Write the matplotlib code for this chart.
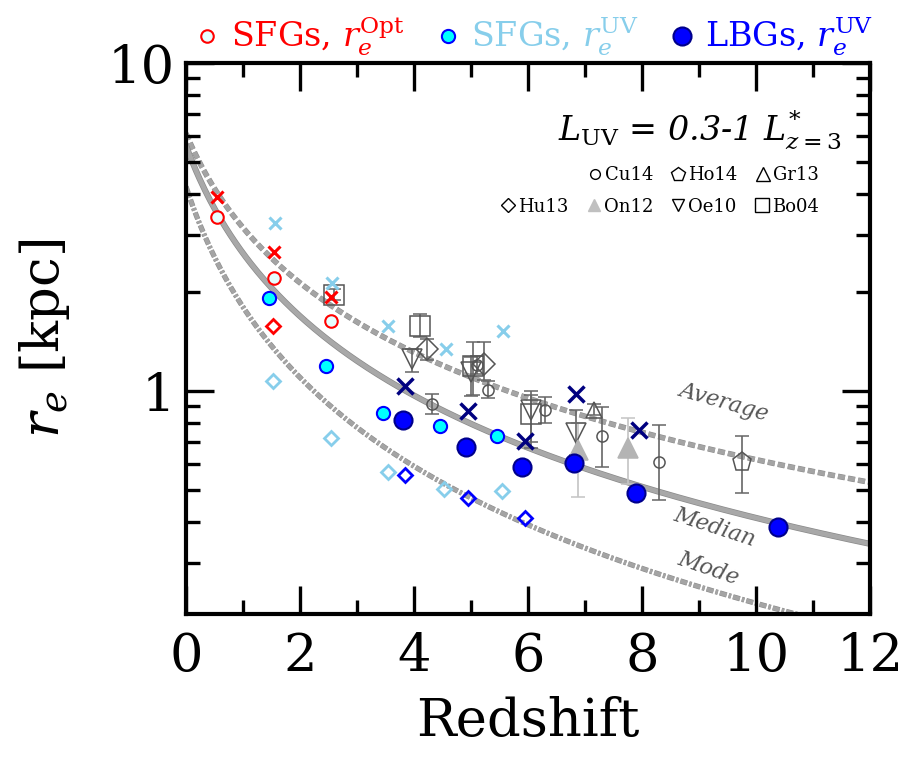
import numpy as np
import matplotlib
matplotlib.use("Agg")
import matplotlib.pyplot as plt
from matplotlib.lines import Line2D
from matplotlib.ticker import MultipleLocator, FixedLocator, NullFormatter, LogLocator
import matplotlib.patheffects as pe

plt.rcParams["font.family"] = ["DejaVu Serif"]
plt.rcParams["mathtext.fontset"] = "dejavuserif"

# ---- this work: SFGs (optical sizes) ----
sfg_opt_z = [0.55, 1.55, 2.55]
sfg_opt_med = [3.39, 2.21, 1.64]
sfg_opt_avg = [3.89, 2.65, 1.94]
sfg_opt_mode_z = [1.53]
sfg_opt_mode = [1.58]

# ---- this work: SFGs (UV sizes) ----
sfg_uv_z = [1.46, 2.46, 3.45, 4.46, 5.45]
sfg_uv_med = [1.92, 1.19, 0.858, 0.784, 0.727]
sfg_uv_avg_z = [1.56, 2.56, 3.55, 4.56, 5.56]
sfg_uv_avg = [3.26, 2.14, 1.58, 1.34, 1.52]
sfg_uv_mode_z = [1.53, 2.54, 3.54, 4.53, 5.54]
sfg_uv_mode = [1.07, 0.717, 0.565, 0.504, 0.496]

# ---- this work: LBGs (UV sizes) ----
lbg_z = [3.81, 4.91, 5.90, 6.80, 7.90, 10.39]
lbg_med = [0.813, 0.673, 0.588, 0.604, 0.489, 0.384]
lbg_avg_z = [3.85, 4.95, 5.95, 6.85, 7.94]
lbg_avg = [1.036, 0.868, 0.702, 0.977, 0.762]
lbg_mode_z = [3.85, 4.94, 5.94]
lbg_mode = [0.554, 0.473, 0.410]

# ---- literature compilation: (z, r, lower, upper) ----
cu14_z = [4.31, 5.10, 5.30, 6.30, 7.30, 8.30]
cu14_r = [0.910, 1.20, 1.01, 0.878, 0.727, 0.606]
cu14_lo = [0.851, 1.13, 0.95, 0.800, 0.588, 0.466]
cu14_hi = [0.977, 1.28, 1.07, 0.960, 0.895, 0.790]

ho14_z = [9.75]
ho14_r = [0.609]
ho14_lo = [0.487]
ho14_hi = [0.727]

gr13_z = [7.15]
gr13_r = [0.878]
gr13_lo = [0.845]
gr13_hi = [0.910]

hu13_z = [4.22, 5.22]
hu13_r = [1.34, 1.21]
hu13_lo = [1.24, 1.08]
hu13_hi = [1.44, 1.41]

on12_z = [6.88, 7.76]
on12_r = [0.662, 0.670]
on12_lo = [0.475, 0.522]
on12_hi = [0.800, 0.828]

oe10_z = [3.96, 5.00, 6.05, 6.85]
oe10_r = [1.25, 1.14, 0.878, 0.744]
oe10_lo = [1.14, 0.965, 0.700, 0.640]
oe10_hi = [1.34, 1.27, 0.970, 0.878]

bo04_z = [2.59, 4.10, 5.04, 6.06]
bo04_r = [1.96, 1.58, 1.19, 0.850]
bo04_lo = [1.90, 1.46, 0.97, 0.670]
bo04_hi = [2.05, 1.72, 1.41, 1.000]

# ---- power-law size evolution fits r = r0 (1+z)^-beta ----
fit_avg = (6.1, 0.955)
fit_med = (5.6, 1.09)
fit_mode = (4.2, 1.22)

fig = plt.figure(figsize=(9.15, 7.69), dpi=100)
ax = fig.add_axes([186 / 915, 155 / 769, 684 / 915, 551 / 769])
ax.set_yscale("log")
ax.set_xlim(0, 12)
ax.set_ylim(0.209, 10)

zg = np.linspace(0, 12, 400)


def powlaw(p):
    return p[0] * (1 + zg) ** (-p[1])


ax.plot(zg, powlaw(fit_avg), color="#a4a4a4", lw=3.2, dashes=(1.6, 0.7),
        zorder=1, path_effects=[pe.Stroke(linewidth=4.0, foreground="#8c8c8c"), pe.Normal()])
ax.plot(zg, powlaw(fit_med), color="#a8a8a8", lw=3.4, zorder=1,
        path_effects=[pe.Stroke(linewidth=4.4, foreground="#8a8a8a"), pe.Normal()])
ax.plot(zg, powlaw(fit_mode), color="#a4a4a4", lw=3.0, dashes=(1.7, 0.5, 0.6, 0.5),
        zorder=1, path_effects=[pe.Stroke(linewidth=3.8, foreground="#8c8c8c"), pe.Normal()])

lab_kw = dict(fontsize=16, style="italic", color="#555555", ha="center", va="center")
ax.text(9.44, 0.925, "Average", rotation=-16, **lab_kw)
ax.text(9.28, 0.385, "Median", rotation=-18, **lab_kw)
ax.text(9.16, 0.288, "Mode", rotation=-19, **lab_kw)

# literature points
gcol = "#555555"
ecol = "#666666"


def lit(z, r, lo, hi, marker, ms, mfc="none", mec=gcol, ec=ecol):
    r = np.asarray(r)
    yerr = [r - np.asarray(lo), np.asarray(hi) - r]
    ax.errorbar(z, r, yerr=yerr, fmt=marker, ms=ms, mfc=mfc, mec=mec, mew=1.1,
                ecolor=ec, elinewidth=1.2, capsize=5, capthick=1.2, zorder=2)


lit(bo04_z, bo04_r, bo04_lo, bo04_hi, "s", 14)
lit(hu13_z, hu13_r, hu13_lo, hu13_hi, "D", 11)
lit(oe10_z, oe10_r, oe10_lo, oe10_hi, "v", 14)
lit(on12_z, on12_r, on12_lo, on12_hi, "^", 14, mfc="#b4b4b4", mec="#b4b4b4", ec="#c4c4c4")
lit(gr13_z, gr13_r, gr13_lo, gr13_hi, "^", 12)
lit(cu14_z, cu14_r, cu14_lo, cu14_hi, "o", 8)
lit(ho14_z, ho14_r, ho14_lo, ho14_hi, "p", 14)

# this work
red = "#ff0000"
sky = "#87ceeb"
navy = "#000080"
ax.plot(sfg_opt_z, sfg_opt_avg, "x", color=red, ms=9, mew=2.2, ls="none", zorder=4)
ax.plot(sfg_opt_z, sfg_opt_med, "o", mfc="#e6ffff", mec=red, ms=9, mew=1.5, ls="none", zorder=4)
ax.plot(sfg_opt_mode_z, sfg_opt_mode, "D", mfc="none", mec=red, ms=7.5, mew=2, ls="none", zorder=4)

ax.plot(sfg_uv_avg_z, sfg_uv_avg, "x", color=sky, ms=9, mew=2.2, ls="none", zorder=4)
ax.plot(sfg_uv_z, sfg_uv_med, "o", mfc="#00ffff", mec="#0000ff", ms=9.5, mew=1.5, ls="none", zorder=4)
ax.plot(sfg_uv_mode_z, sfg_uv_mode, "D", mfc="none", mec=sky, ms=7.5, mew=2, ls="none", zorder=4)

ax.plot(lbg_avg_z, lbg_avg, "x", color=navy, ms=12, mew=2.5, ls="none", zorder=4)
ax.plot(lbg_z, lbg_med, "o", mfc="#0000ff", mec="#00008b", ms=13, mew=1.5, ls="none", zorder=4)
ax.plot(lbg_mode_z, lbg_mode, "D", mfc="none", mec="#0000ff", ms=7.5, mew=2, ls="none", zorder=4)

# axes styling
for s in ax.spines.values():
    s.set_linewidth(3)
ax.xaxis.set_major_locator(MultipleLocator(2))
ax.xaxis.set_minor_locator(MultipleLocator(1))
ax.yaxis.set_major_locator(FixedLocator([1, 10]))
ax.yaxis.set_minor_locator(LogLocator(base=10, subs=np.arange(2, 10)))
ax.yaxis.set_minor_formatter(NullFormatter())
ax.set_yticklabels(["1", "10"])
ax.tick_params(which="both", direction="in", top=True, right=True, width=2.4)
ax.tick_params(which="major", length=20, labelsize=38, pad=8)
ax.tick_params(which="minor", length=10)
ax.tick_params(axis="x", which="major", pad=12)
ax.set_xlabel("Redshift", fontsize=38, labelpad=10)
ax.set_ylabel(r"$r_e$ [kpc]", fontsize=38, labelpad=26)

# luminosity bin annotation
ax.text(0.958, 0.878, r"$L_{\rm UV}$ = 0.3-1 $L^{*}_{z\mathit{=3}}$", transform=ax.transAxes,
        ha="right", va="center", fontsize=24, style="italic")

# compilation key
def key(marker, label, ms, mfc="none", mec="black"):
    return Line2D([], [], ls="none", marker=marker, ms=ms, mfc=mfc, mec=mec, mew=1.0, label=label)


row1 = [key("o", "Cu14", 7), key("p", "Ho14", 10), key("^", "Gr13", 10)]
row2 = [key("D", "Hu13", 7), key("^", "On12", 9, mfc="#c0c0c0", mec="#c0c0c0"),
        key("v", "Oe10", 9), key("s", "Bo04", 10)]
kw = dict(frameon=False, fontsize=13, handlelength=0.8, handletextpad=0.15,
          columnspacing=1.0, borderpad=0, borderaxespad=0, loc="center right")
leg1 = ax.legend(handles=row1, ncol=3, bbox_to_anchor=(0.925, 0.797), **kw)
ax.add_artist(leg1)
ax.legend(handles=row2, ncol=4, bbox_to_anchor=(0.925, 0.739), **kw)

# top key
top = [
    Line2D([], [], ls="none", marker="o", ms=9, mfc="#e6ffff", mec=red, mew=1.5,
           label=r"SFGs, $r_e^{\rm Opt}$"),
    Line2D([], [], ls="none", marker="o", ms=9.5, mfc="#00ffff", mec="#0000ff", mew=1.5,
           label=r"SFGs, $r_e^{\rm UV}$"),
    Line2D([], [], ls="none", marker="o", ms=13, mfc="#0000ff", mec="#00008b", mew=1.5,
           label=r"LBGs, $r_e^{\rm UV}$"),
]
fig.legend(handles=top, loc="center", bbox_to_anchor=(0.585, 0.952), ncol=3, frameon=False,
           fontsize=24, labelcolor=[red, sky, "#0000ff"], handlelength=0.6,
           handletextpad=0.4, columnspacing=1.0, borderpad=0)

fig.savefig("out.png", dpi=100)
